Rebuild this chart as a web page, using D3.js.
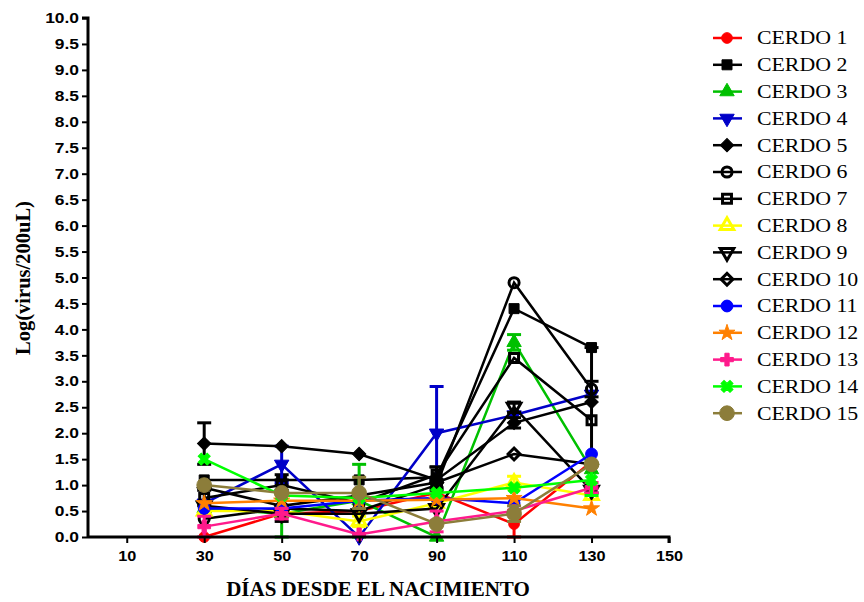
<!DOCTYPE html>
<html>
<head>
<meta charset="utf-8">
<script src="https://cdn.jsdelivr.net/npm/d3@7"></script>
<style>
html,body{margin:0;padding:0;background:#fff;}
svg{display:block;}
</style>
</head>
<body>
<svg id="chart" width="864" height="602"></svg>
<script>
// ---- data ----
const days = [30, 50, 70, 90, 110, 130];
const xTicks = [10, 30, 50, 70, 90, 110, 130, 150];
const yTicks = [0,0.5,1,1.5,2,2.5,3,3.5,4,4.5,5,5.5,6,6.5,7,7.5,8,8.5,9,9.5,10];
const names = ["CERDO 1","CERDO 2","CERDO 3","CERDO 4","CERDO 5","CERDO 6","CERDO 7","CERDO 8","CERDO 9","CERDO 10","CERDO 11","CERDO 12","CERDO 13","CERDO 14","CERDO 15"];

const cerdo1  = [0.0, 0.45, 0.5, 0.85, 0.25, 1.45];
const cerdo2  = [1.1, 1.1, 1.1, 1.15, 4.4, 3.65];
const cerdo3  = [0.55, 0.45, 0.7, 0.0, 3.75, 1.3];
const cerdo4  = [0.65, 1.4, 0.0, 2.0, 2.35, 2.75];
const cerdo5  = [1.8, 1.75, 1.6, 1.1, 2.2, 2.6];
const cerdo6  = [0.35, 0.55, 0.5, 1.0, 4.9, 2.85];
const cerdo7  = [0.75, 1.0, 0.65, 1.2, 3.45, 2.25];
const cerdo8  = [0.5, 0.5, 0.3, 0.65, 1.05, 0.8];
const cerdo9  = [0.6, 0.45, 0.45, 0.55, 2.5, 0.9];
const cerdo10 = [0.95, 0.6, 0.8, 1.05, 1.6, 1.4];
const cerdo11 = [0.55, 0.55, 0.7, 0.75, 0.65, 1.6];
const cerdo12 = [0.65, 0.7, 0.7, 0.72, 0.75, 0.55];
const cerdo13 = [0.2, 0.45, 0.05, 0.3, 0.5, 0.95];
const cerdo14 = [1.5, 0.8, 0.75, 0.85, 0.95, 1.1];
const cerdo15 = [1.0, 0.85, 0.85, 0.25, 0.45, 1.4];

// error (SD) values
const err1  = [0, 0, 0, 0, 0.25, 0];
const err2  = [0, 0.1, 0, 0.2, 0, 0];
const err3  = [0, 0.45, 0.7, 0, 0.15, 0];
const err4  = [0, 0.35, 0, 0.9, 0, 0];
const err5  = [0.4, 0, 0, 0, 0.1, 0];
const err6  = [0, 0, 0, 0.1, 0, 0.15];
const err7  = [0.15, 0.1, 0, 0.15, 0, 1.4];
const err8  = [0, 0, 0.1, 0, 0.12, 0];
const err9  = [0, 0.15, 0, 0, 0.1, 0];
const err10 = [0, 0, 0, 0, 0, 0];
const err11 = [0, 0, 0, 0, 0, 0];
const err12 = [0, 0, 0, 0, 0, 0];
const err13 = [0.2, 0.1, 0, 0.2, 0, 0.1];
const err14 = [0, 0, 0, 0, 0, 0.3];
const err15 = [0, 0, 0.3, 0, 0.15, 0];

const values = [cerdo1,cerdo2,cerdo3,cerdo4,cerdo5,cerdo6,cerdo7,cerdo8,cerdo9,cerdo10,cerdo11,cerdo12,cerdo13,cerdo14,cerdo15];
const errors = [err1,err2,err3,err4,err5,err6,err7,err8,err9,err10,err11,err12,err13,err14,err15];

// ---- styles ----
const colors = ["#ff0000","#000000","#00c000","#0000c8","#000000","#000000","#000000","#ffff00","#000000","#000000","#0000ff","#ff8000","#ff1a8c","#00ff00","#8c7d3a"];
// [symbol, filled, rotation, size]
const markers = [
  [d3.symbolCircle, true, 0, 90],
  [d3.symbolSquare, true, 0, 100],
  [d3.symbolTriangle, true, 0, 90],
  [d3.symbolTriangle, true, 180, 90],
  [d3.symbolSquare, true, 45, 90],
  [d3.symbolCircle, false, 0, 80],
  [d3.symbolSquare, false, 0, 80],
  [d3.symbolTriangle, false, 0, 80],
  [d3.symbolTriangle, false, 180, 80],
  [d3.symbolSquare, false, 45, 70],
  [d3.symbolCircle, true, 0, 110],
  [d3.symbolStar, true, 0, 80],
  [d3.symbolCross, true, 0, 90],
  [d3.symbolCross, true, 45, 90],
  [d3.symbolCircle, true, 0, 170]
];

const svg = d3.select("#chart");
const x = d3.scaleLinear().domain([0, 150]).range([88, 669]);
const y = d3.scaleLinear().domain([0, 10]).range([537, 18]);

// series
const line = d3.line().x((d,i)=>x(days[i])).y(d=>y(d));
const g = svg.append("g");
values.forEach((vals, s) => {
  const sg = g.append("g");
  vals.forEach((v, i) => {
    const e = errors[s][i];
    if (e > 0) {
      const lo = Math.max(0, v - e), hi = v + e;
      sg.append("line").attr("x1", x(days[i])).attr("x2", x(days[i]))
        .attr("y1", y(lo)).attr("y2", y(hi))
        .attr("stroke", colors[s]).attr("stroke-width", 3);
      [lo, hi].forEach(c => {
        sg.append("line").attr("x1", x(days[i]) - 7).attr("x2", x(days[i]) + 7)
          .attr("y1", y(c)).attr("y2", y(c))
          .attr("stroke", colors[s]).attr("stroke-width", 3);
      });
    }
  });
  sg.append("path").datum(vals).attr("d", line)
    .attr("fill", "none").attr("stroke", colors[s]).attr("stroke-width", 2.5);
  const m = markers[s];
  sg.selectAll("path.mk").data(vals).join("path").attr("class","mk")
    .attr("d", d3.symbol().type(m[0]).size(m[3]))
    .attr("transform", (d,i)=>`translate(${x(days[i])},${y(d)}) rotate(${m[2]})`)
    .attr("fill", m[1] ? colors[s] : "#fff")
    .attr("fill-opacity", m[1] ? 1 : 0)
    .attr("stroke", colors[s]).attr("stroke-width", m[1] ? 1 : 3);
});

// axes
const sx = 1.2;
const yAxis = svg.append("g").attr("transform", "translate(88,0)")
  .call(d3.axisLeft(y).tickValues(yTicks).tickFormat(d3.format(".1f")).tickSize(6).tickPadding(3));
const xAxis = svg.append("g").attr("transform", "translate(0,537)")
  .call(d3.axisBottom(x).tickValues(xTicks).tickSize(6).tickPadding(8));
[yAxis, xAxis].forEach(a => {
  a.select(".domain").attr("stroke", "#000").attr("stroke-width", 3);
  a.selectAll(".tick line").attr("stroke", "#000").attr("stroke-width", 2);
  a.selectAll(".tick text").attr("fill", "#000")
    .style("font-family", "'Liberation Sans', Arial, sans-serif")
    .style("font-weight", "bold").style("font-size", "14.5px");
});
yAxis.selectAll(".tick text").each(function(){
  const t = d3.select(this);
  const x0 = +t.attr("x");
  t.attr("x", x0 / sx).attr("transform", `scale(${sx},1)`);
});
xAxis.selectAll(".tick text").attr("transform", `scale(1.12,1)`);
yAxis.select(".domain").attr("d", `M-6,${y(10)}H0V${y(0)}`);
xAxis.select(".domain").attr("d", `M${x(0)},0H${x(150)}V6`);

// axis titles
svg.append("text").attr("x", 378).attr("y", 596).attr("text-anchor", "middle")
  .style("font-family", "'Liberation Serif', 'Times New Roman', serif")
  .style("font-weight", "bold").style("font-size", "21px")
  .text("DÍAS DESDE EL NACIMIENTO");
svg.append("text").attr("transform", "translate(30,278) rotate(-90)").attr("text-anchor", "middle")
  .style("font-family", "'Liberation Serif', 'Times New Roman', serif")
  .style("font-weight", "bold").style("font-size", "20.5px")
  .text("Log(virus/200uL)");

// legend
const lsx = 1.18;
const lg = svg.append("g");
names.forEach((n, s) => {
  const ly = 38 + s * 26.8;
  lg.append("line").attr("x1", 713).attr("x2", 742).attr("y1", ly).attr("y2", ly)
    .attr("stroke", colors[s]).attr("stroke-width", 2.5);
  const m = markers[s];
  lg.append("path").attr("d", d3.symbol().type(m[0]).size(m[3]))
    .attr("transform", `translate(727,${ly}) rotate(${m[2]})`)
    .attr("fill", m[1] ? colors[s] : "#fff").attr("fill-opacity", m[1] ? 1 : 0)
    .attr("stroke", colors[s]).attr("stroke-width", m[1] ? 1 : 3);
  lg.append("text").attr("x", 757 / lsx).attr("y", ly).attr("dy", "0.35em")
    .attr("transform", `scale(${lsx},1)`)
    .style("font-family", "'Liberation Serif', 'Times New Roman', serif")
    .style("font-size", "18.5px").attr("fill", "#000").text(n);
});
</script>
</body>
</html>
